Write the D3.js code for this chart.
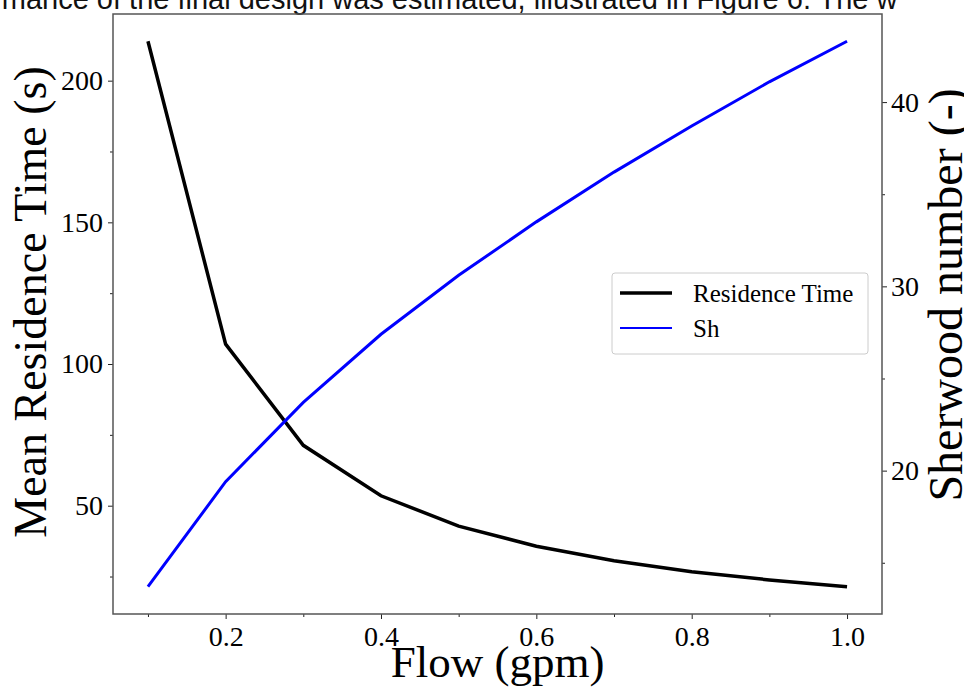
<!DOCTYPE html>
<html>
<head>
<meta charset="utf-8">
<script src="https://cdn.jsdelivr.net/npm/d3@7"></script>
<style>
  body { margin: 0; background: #fff; }
  svg { display: block; }
  .tick text { font-family: "Liberation Serif", "Times New Roman", serif; }
</style>
</head>
<body>
<div id="chart"></div>
<script>
let flow = [0.1, 0.2, 0.3, 0.4, 0.5, 0.6, 0.7, 0.8, 0.9, 1.0];
let residenceTime = [213.9, 107.0, 71.3, 53.5, 42.8, 35.7, 30.6, 26.7, 23.8, 21.4];
let sherwood = [13.7, 19.4, 23.7, 27.4, 30.6, 33.5, 36.2, 38.7, 41.1, 43.3];
let xTicks = [0.2, 0.4, 0.6, 0.8, 1.0];
let leftTicks = [50, 100, 150, 200];
let rightTicks = [20, 30, 40];

let W = 964, H = 692;
let margin = {top: 14, right: 82, bottom: 78, left: 113},
    width = W - margin.left - margin.right,
    height = H - margin.top - margin.bottom;

let svg = d3.select("#chart")
    .append("svg")
    .attr("width", W)
    .attr("height", H);

// cropped text of the surrounding document
svg.append("text")
    .attr("x", -74)
    .attr("y", 9)
    .style("font-family", "Liberation Sans, Arial, sans-serif")
    .style("font-size", "29px")
    .style("fill", "#111")
    .text("performance of the final design was estimated, illustrated in Figure 6. The w");

let g = svg.append("g")
    .attr("transform", "translate(" + margin.left + "," + margin.top + ")");

// matplotlib-like 5% margins
function pad(ext) {
    let d = (ext[1] - ext[0]) * 0.05;
    return [ext[0] - d, ext[1] + d];
}

let x = d3.scaleLinear().domain(pad(d3.extent(flow))).range([0, width]);
let yL = d3.scaleLinear().domain(pad(d3.extent(residenceTime))).range([height, 0]);
let yR = d3.scaleLinear().domain(pad(d3.extent(sherwood))).range([height, 0]);

let xMinor = [0.1, 0.3, 0.5, 0.7, 0.9];
let lMinor = [25, 75, 125, 175];
let rMinor = [15, 25, 35];

function styleAxis(a) {
    a.select(".domain").remove();
    a.selectAll(".tick line").attr("stroke", "#222");
    a.selectAll(".tick text").style("font-size", "28px").attr("fill", "#000");
}

// x axis
let xa = g.append("g")
    .attr("transform", "translate(0," + height + ")")
    .call(d3.axisBottom(x).tickValues(xTicks).tickFormat(d3.format(".1f")).tickSize(5).tickPadding(7));
styleAxis(xa);
g.append("g")
    .attr("transform", "translate(0," + height + ")")
    .call(d3.axisBottom(x).tickValues(xMinor).tickFormat("").tickSize(3))
    .call(a => { a.select(".domain").remove(); a.selectAll("line").attr("stroke", "#222"); });

// left axis
let la = g.append("g")
    .call(d3.axisLeft(yL).tickValues(leftTicks).tickSize(5).tickPadding(5));
styleAxis(la);
g.append("g")
    .call(d3.axisLeft(yL).tickValues(lMinor).tickFormat("").tickSize(3))
    .call(a => { a.select(".domain").remove(); a.selectAll("line").attr("stroke", "#222"); });

// right axis
let ra = g.append("g")
    .attr("transform", "translate(" + width + ",0)")
    .call(d3.axisRight(yR).tickValues(rightTicks).tickSize(5).tickPadding(4));
styleAxis(ra);
g.append("g")
    .attr("transform", "translate(" + width + ",0)")
    .call(d3.axisRight(yR).tickValues(rMinor).tickFormat("").tickSize(3))
    .call(a => { a.select(".domain").remove(); a.selectAll("line").attr("stroke", "#222"); });

// frame
g.append("rect")
    .attr("width", width)
    .attr("height", height)
    .attr("fill", "none")
    .attr("stroke", "#555")
    .attr("stroke-width", 1.5);

// lines
let data = flow.map((f, i) => ({f: f, rt: residenceTime[i], sh: sherwood[i]}));

g.append("path")
    .datum(data)
    .attr("fill", "none")
    .attr("stroke", "#000")
    .attr("stroke-width", 3.5)
    .attr("d", d3.line().x(d => x(d.f)).y(d => yL(d.rt)));

g.append("path")
    .datum(data)
    .attr("fill", "none")
    .attr("stroke", "#0000ff")
    .attr("stroke-width", 3)
    .attr("d", d3.line().x(d => x(d.f)).y(d => yR(d.sh)));

// axis labels
svg.append("text")
    .attr("x", margin.left + width / 2)
    .attr("y", 677)
    .attr("text-anchor", "middle")
    .style("font-family", "Liberation Serif, Times New Roman, serif")
    .style("font-size", "45px")
    .text("Flow (gpm)");

svg.append("text")
    .attr("transform", "translate(46,302) rotate(-90)")
    .attr("text-anchor", "middle")
    .style("font-family", "Liberation Serif, Times New Roman, serif")
    .style("font-size", "46px")
    .text("Mean Residence Time (s)");

svg.append("text")
    .attr("transform", "translate(962,295) rotate(-90)")
    .attr("text-anchor", "middle")
    .style("font-family", "Liberation Serif, Times New Roman, serif")
    .style("font-size", "48px")
    .text("Sherwood number (-)");

// legend
let legendItems = [
    {name: "Residence Time", color: "#000", w: 3.5},
    {name: "Sh", color: "#0000ff", w: 2}
];
let leg = svg.append("g").attr("transform", "translate(612,273)");
leg.append("rect")
    .attr("width", 256)
    .attr("height", 81)
    .attr("rx", 3)
    .attr("fill", "#fff")
    .attr("fill-opacity", 0.8)
    .attr("stroke", "#ccc");
leg.selectAll("line.item")
    .data(legendItems)
    .enter()
    .append("line")
    .attr("x1", 8).attr("x2", 60)
    .attr("y1", (d, i) => 20 + i * 35)
    .attr("y2", (d, i) => 20 + i * 35)
    .attr("stroke", d => d.color)
    .attr("stroke-width", d => d.w);
leg.selectAll("text.item")
    .data(legendItems)
    .enter()
    .append("text")
    .attr("x", 81)
    .attr("y", (d, i) => 20 + i * 35)
    .attr("dy", "0.35em")
    .style("font-family", "Liberation Serif, Times New Roman, serif")
    .style("font-size", "25px")
    .text(d => d.name);
</script>
</body>
</html>
